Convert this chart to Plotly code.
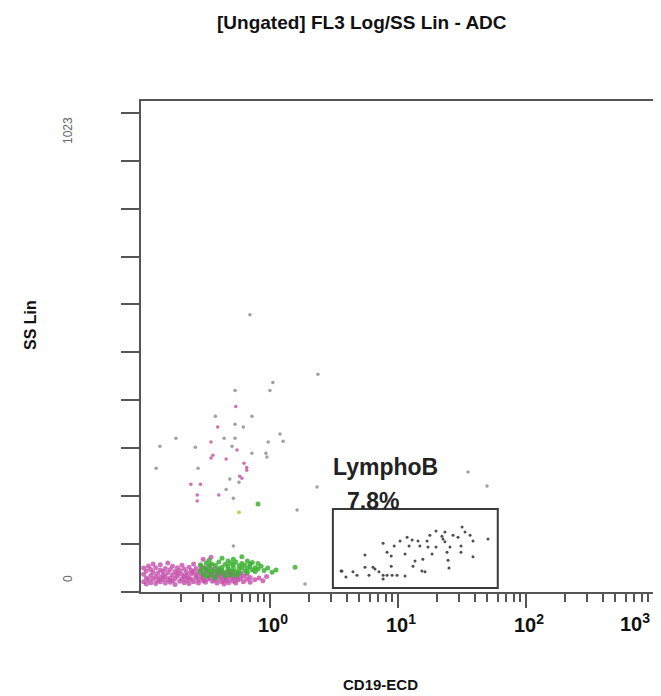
import plotly.graph_objects as go

# ---------------- data ----------------
# CD19-ECD (log) vs SS Lin (0..1023)
PINK_X = [0.103, 0.103, 0.103, 0.108, 0.108, 0.108, 0.112, 0.112, 0.117, 0.117, 0.117,
          0.122, 0.122, 0.122, 0.128, 0.128, 0.128, 0.133, 0.133, 0.139, 0.139, 0.139, 0.139,
          0.146, 0.146, 0.146, 0.152, 0.152, 0.152, 0.159, 0.159, 0.159, 0.166, 0.166, 0.166,
          0.173, 0.173, 0.173, 0.181, 0.181, 0.181, 0.189, 0.189, 0.189, 0.197, 0.197,
          0.205, 0.205, 0.205, 0.214, 0.214, 0.214, 0.223, 0.223, 0.223, 0.233, 0.233, 0.233,
          0.243, 0.243, 0.243, 0.253, 0.253, 0.253, 0.264, 0.264, 0.264, 0.276, 0.276, 0.276,
          0.288, 0.288, 0.288, 0.300, 0.300, 0.300, 0.313, 0.313, 0.313, 0.326, 0.326, 0.326,
          0.340, 0.340, 0.340, 0.355, 0.355, 0.355, 0.370, 0.370, 0.370, 0.386, 0.386, 0.386,
          0.402, 0.402, 0.402, 0.420, 0.420, 0.420, 0.438, 0.438, 0.438, 0.457, 0.457, 0.457,
          0.476, 0.476, 0.476, 0.497, 0.497, 0.518, 0.518, 0.518, 0.540, 0.540, 0.563, 0.563,
          0.590, 0.590, 0.620, 0.620, 0.660, 0.660, 0.700, 0.700, 0.760, 0.820, 0.880, 0.940,
          0.346, 0.300]
PINK_Y = [22, 38, 51, 30, 45, 17, 26, 55, 35, 20, 48,
          28, 42, 60, 33, 18, 52, 40, 25, 31, 47, 22, 58,
          36, 27, 44, 19, 33, 50, 41, 26, 62, 30, 48, 21,
          37, 55, 24, 29, 44, 16, 34, 52, 40, 23, 46,
          38, 28, 57, 32, 49, 20, 42, 25, 35, 53, 30, 18,
          39, 27, 46, 22, 43, 60, 31, 50, 36, 26, 41, 19,
          47, 33, 55, 24, 38, 29, 44, 21, 52, 35, 27, 48,
          30, 57, 40, 23, 37, 45, 32, 26, 50, 41, 19, 35,
          28, 46, 38, 22, 33, 43, 36, 27, 17, 30, 41, 24,
          35, 20, 45, 28, 38, 23, 33, 42, 30, 19, 36, 26,
          29, 40, 22, 34, 27, 38, 31, 21, 26, 30, 24, 33,
          74, 70]

GREEN_X = [0.286, 0.286, 0.302, 0.302, 0.318, 0.318, 0.318, 0.334, 0.334, 0.334,
           0.350, 0.350, 0.350, 0.374, 0.374, 0.374, 0.398, 0.398, 0.398,
           0.422, 0.422, 0.422, 0.446, 0.446, 0.446, 0.470, 0.470, 0.470,
           0.493, 0.493, 0.493, 0.517, 0.517, 0.517, 0.540, 0.540, 0.540,
           0.572, 0.572, 0.572, 0.603, 0.603, 0.603, 0.635, 0.635, 0.666, 0.666, 0.666,
           0.697, 0.697, 0.728, 0.728, 0.767, 0.767, 0.806, 0.806, 0.852, 0.899, 0.960,
           1.037, 1.113, 1.569, 0.806]
GREEN_Y = [45, 58, 52, 38, 62, 47, 33, 55, 42, 68, 48, 36, 60,
           57, 44, 30, 64, 50, 39, 53, 46, 72, 41, 59, 34,
           66, 49, 55, 45, 37, 62, 58, 51, 70, 43, 64, 35,
           56, 48, 40, 61, 52, 75, 45, 57, 66, 50, 42,
           54, 60, 47, 63, 52, 44, 49, 61, 55, 46, 51, 42, 47,
           53, 188]

SCATTER_PINK_X = [0.540, 0.390, 0.346, 0.552, 0.358, 0.346, 0.454, 0.627, 0.658, 0.658,
                  0.580, 0.603, 0.241, 0.286, 0.270, 0.270, 0.398]
SCATTER_PINK_Y = [396, 352, 320, 303, 292, 286, 284, 275, 266, 260,
                  247, 243, 230, 230, 207, 194, 207]

GRAY_X = [0.697, 2.367, 1.052, 0.533, 0.998, 0.374, 0.721, 0.533, 0.619, 0.184, 0.438,
          0.533, 0.968, 1.197, 1.266, 0.138, 0.261, 0.505, 0.721, 0.929, 0.945,
          0.129, 0.274, 0.485, 0.572, 2.331, 0.454, 0.517, 1.629, 35.3, 49.6, 0.517, 1.876]
GRAY_Y = [592, 465, 447, 430, 430, 375, 375, 358, 352, 328, 328,
          328, 320, 337, 322, 311, 309, 311, 296, 296, 288,
          264, 264, 241, 234, 224, 219, 200, 175, 256, 226, 98, 17]

YELLOW_X = [0.572]
YELLOW_Y = [170]

GATE_X = [3.65, 3.92, 4.45, 4.78, 5.52, 5.94, 6.38, 6.61, 7.10, 7.65, 8.21, 8.99,
          9.83, 11.36, 7.65, 8.85, 5.52, 7.65, 8.21, 8.85, 9.34, 10.38, 11.36, 12.20,
          11.78, 12.89, 13.10, 13.58, 14.34, 14.82, 15.37, 16.26, 15.64, 16.88, 17.15, 17.76,
          18.45, 19.82, 19.82, 22.05, 22.46, 23.26, 23.26, 24.15, 24.61, 25.02, 25.49, 26.91,
          29.45, 31.05, 31.05, 31.66, 33.40, 36.59, 38.57, 38.57, 50.48, 3.59]
GATE_Y = [45, 32, 43, 36, 53, 36, 53, 49, 43, 36, 36, 36,
          36, 34, 28, 55, 79, 104, 85, 77, 98, 109, 81, 98,
          117, 111, 55, 66, 109, 98, 45, 43, 70, 109, 96, 121,
          81, 96, 130, 119, 113, 128, 107, 85, 68, 51, 96, 121,
          117, 98, 85, 139, 128, 121, 109, 75, 113, 45]

# gate rectangle: x from, x to, y from, y to
GATE_RECT = [3.1, 60.2, 8.5, 177.0]
GATE_NAME = "LymphoB"
GATE_PCT = "7.8%"

X_MAJOR = [1, 10, 100, 1000]
X_MAJOR_TEXT = ["10<sup>0</sup>", "10<sup>1</sup>", "10<sup>2</sup>", "10<sup>3</sup>"]
X_MINOR = [0.2, 0.3, 0.4, 0.5, 0.6, 0.7, 0.8, 0.9,
           2, 3, 4, 5, 6, 7, 8, 9,
           20, 30, 40, 50, 60, 70, 80, 90,
           200, 300, 400, 500, 600, 700, 800, 900]
Y_TICKS = [0, 102.3, 204.6, 306.9, 409.2, 511.5, 613.8, 716.1, 818.4, 920.7, 1023]
Y_LABELS = ["0", "1023"]

TITLE = "[Ungated] FL3 Log/SS Lin - ADC"
X_TITLE = "CD19-ECD"
Y_TITLE = "SS Lin"

# ---------------- figure ----------------
OFF = 8                      # page body margin of the html page
W, H = 661 - OFF, 696 - OFF
L, R, T = 141 - OFF, 0, 101 - OFF
B = H - (592 - OFF)
PW, PH = W - L - R, H - T - B
XR = [-1.008, 3.055]
YR = [0, 1048]
FONT = "Liberation Sans, Arial, sans-serif"
TICKFONT = dict(family=FONT, size=20, color="#111", weight="bold")


def px2paper(sx, sy):
    """screen pixel of the reference -> paper coordinates"""
    fx, fy = sx - OFF, sy - OFF
    return (fx - L) / PW, (H - B - fy) / PH


fig = go.Figure()


def add_pts(xs, ys, color, size, opacity=1.0):
    fig.add_trace(go.Scatter(x=xs, y=ys, mode="markers",
                             marker=dict(color=color, size=size, opacity=opacity,
                                         line=dict(width=0)),
                             hoverinfo="x+y", showlegend=False))


add_pts(PINK_X, PINK_Y, "rgb(196,78,170)", 5, 0.8)
add_pts(GREEN_X, GREEN_Y, "rgb(60,178,50)", 5, 0.85)
add_pts(GRAY_X, GRAY_Y, "rgb(150,150,150)", 3.5, 0.9)
add_pts(SCATTER_PINK_X, SCATTER_PINK_Y, "rgb(200,95,170)", 3.5, 0.9)
add_pts(YELLOW_X, YELLOW_Y, "rgb(190,200,80)", 4, 0.9)
add_pts(GATE_X, GATE_Y, "rgb(60,60,60)", 3, 0.9)

fig.add_shape(type="rect", xref="x", yref="y",
              x0=GATE_RECT[0], x1=GATE_RECT[1],
              y0=GATE_RECT[2], y1=GATE_RECT[3],
              line=dict(color="#3a3a3a", width=2), layer="above")

# the last decade label sits at the cropped right edge: the axis keeps the
# tick mark, the label is drawn as an annotation kept inside the visible page
tick_text = X_MAJOR_TEXT[:-1] + [""]

axis_col = "#555555"
fig.update_layout(
    width=W, height=H,
    margin=dict(l=L, r=R, t=T, b=B, pad=0),
    paper_bgcolor="white", plot_bgcolor="white",
    showlegend=False,
    font=dict(family=FONT),
    xaxis=dict(type="log", range=XR, showgrid=False, zeroline=False,
               showline=True, linecolor=axis_col, linewidth=2, mirror=True,
               ticks="outside", ticklen=14, tickwidth=2, tickcolor=axis_col,
               tickvals=X_MAJOR, ticktext=tick_text, ticklabelshift=3,
               tickfont=TICKFONT,
               minor=dict(tickvals=X_MINOR, ticks="outside", ticklen=8,
                          tickwidth=2, tickcolor=axis_col, showgrid=False)),
    yaxis=dict(range=YR, showgrid=False, zeroline=False,
               showline=True, linecolor=axis_col, linewidth=2,
               ticks="outside", ticklen=18, tickwidth=2, tickcolor=axis_col,
               tickvals=Y_TICKS, showticklabels=False),
)

ann = []
ann.append(dict(text=X_MAJOR_TEXT[-1], x=3, y=0, xref="x", yref="paper",
                showarrow=False, xanchor="right", yanchor="top", xshift=-2, yshift=-16,
                font=TICKFONT))
tx, ty = px2paper(362, 22)
ann.append(dict(text=TITLE, x=tx, y=ty, xref="paper", yref="paper", showarrow=False,
                xanchor="center", yanchor="middle",
                font=dict(family=FONT, size=19, color="#111", weight="bold")))
tx, ty = px2paper(380, 684)
ann.append(dict(text=X_TITLE, x=tx, y=ty, xref="paper", yref="paper", showarrow=False,
                xanchor="center", yanchor="middle",
                font=dict(family=FONT, size=15, color="#111", weight="bold")))
tx, ty = px2paper(30, 325)
ann.append(dict(text=Y_TITLE, x=tx, y=ty, xref="paper", yref="paper", showarrow=False,
                xanchor="center", yanchor="middle", textangle=-90,
                font=dict(family=FONT, size=16, color="#111", weight="bold")))
for lab, py in zip(Y_LABELS, [579, 131]):
    tx, ty = px2paper(68, py)
    ann.append(dict(text=lab, x=tx, y=ty, xref="paper", yref="paper", showarrow=False,
                    xanchor="center", yanchor="middle", textangle=-90,
                    font=dict(family=FONT, size=12, color="#666")))
tx, ty = px2paper(331, 467)
ann.append(dict(text=GATE_NAME, x=tx, y=ty, xref="paper", yref="paper", showarrow=False,
                xanchor="left", yanchor="middle",
                font=dict(family=FONT, size=23, color="#222", weight="bold")))
tx, ty = px2paper(345, 501)
ann.append(dict(text=GATE_PCT, x=tx, y=ty, xref="paper", yref="paper", showarrow=False,
                xanchor="left", yanchor="middle",
                font=dict(family=FONT, size=23, color="#222", weight="bold")))
fig.update_layout(annotations=ann)

fig.write_html("out.html")
